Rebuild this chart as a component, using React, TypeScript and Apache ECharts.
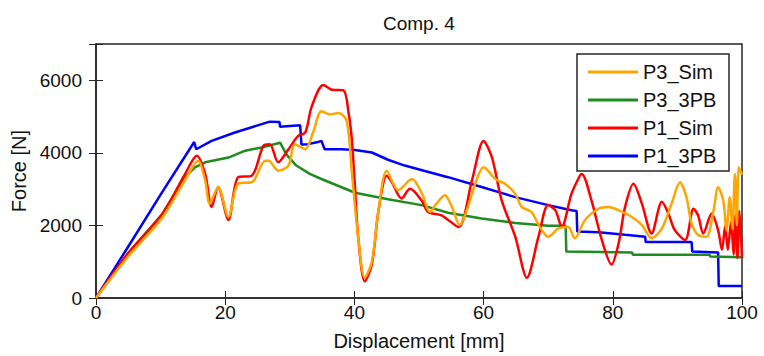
import React, { useEffect, useRef } from "react";
import * as echarts from "echarts";

const xTicks = [0, 20, 40, 60, 80, 100];
const yTicks = [0, 2000, 4000, 6000];

const p1_3PB: number[][] = [
  [0, 0], [5, 1420], [10, 2850], [15.2, 4300], [15.5, 4100], [17.9, 4330], [21.5, 4560], [24, 4700],
  [26.9, 4860], [28.4, 4850], [28.5, 4720], [31.6, 4760], [31.8, 4230], [32.8, 4240], [34.2, 4290],
  [34.9, 4330], [35.4, 4100], [38, 4100], [40.1, 4080], [42.7, 4010], [45.2, 3810], [47.8, 3650],
  [50.9, 3500], [54.5, 3330], [59.7, 3060], [64.9, 2780], [70, 2560], [73.6, 2420], [74.4, 2400],
  [74.5, 1830], [77.8, 1810], [81.9, 1740], [85, 1690], [85.1, 1540], [92.2, 1540], [92.3, 1280],
  [96.3, 1255], [96.4, 330], [100, 330],
];

const p1_Sim: number[][] = [
  [0, 0], [5, 1240], [10.2, 2300], [13.8, 3420], [15.6, 3920], [16.9, 3420], [17.9, 2510], [18.9, 3055],
  [20.5, 2150], [22, 3330], [24.1, 3370], [25.9, 4190], [26.9, 4240], [28.2, 3740], [29.8, 4100],
  [31.3, 4465], [32.4, 4560], [33.4, 5280], [35.2, 5870], [36.5, 5740], [38.3, 5720], [39.1, 5100],
  [39.6, 4370], [40.1, 3010], [40.6, 1650], [41.6, 460], [42.7, 920], [43.7, 2370], [45, 3370],
  [45.8, 3190], [47.3, 2740], [48.6, 3010], [50.4, 2690], [51.4, 2370], [53.5, 2280], [56.1, 1960],
  [58.2, 3240], [60, 4330], [61.3, 3870], [62.8, 2690], [64.9, 1690], [66.7, 560], [68.5, 1690],
  [70, 2560], [71.1, 2420], [72.1, 1960], [73.6, 2870], [74.9, 3370], [75.2, 3420], [76.7, 2690],
  [78.3, 1600], [79.8, 920], [80.9, 1510], [81.9, 2510], [83.2, 3150], [84.5, 2600], [86, 1780],
  [87.6, 2650], [88.6, 2330], [89.6, 1870], [91.2, 1600], [92.5, 2460], [93.2, 2280], [94, 1780],
  [95.3, 2330], [96.3, 1870], [96.9, 1330], [97.4, 2000], [97.8, 1330], [98.3, 2100], [98.7, 1200],
  [99, 2300], [99.3, 1100], [99.6, 2400], [100, 1100],
];

const p3_3PB: number[][] = [
  [0, 0], [5, 1240], [10.2, 2300], [13.8, 3330], [15.3, 3600], [16.9, 3740], [20.5, 3870], [23.1, 4060],
  [25.6, 4150], [28.5, 4280], [29.5, 3950], [31, 3650], [33.1, 3420], [34.9, 3280], [40.1, 2900],
  [45.2, 2720], [50.4, 2560], [54.5, 2350], [59.7, 2190], [64.9, 2070], [70, 1990], [72.7, 1990],
  [72.8, 1280], [83, 1255], [83.1, 1190], [95, 1190], [95.1, 1146], [100, 1120],
];

const p3_Sim: number[][] = [
  [0, 0], [5, 1150], [10.2, 2200], [13.8, 3250], [15.8, 3780], [16.9, 3240], [17.6, 2600], [18.9, 3055],
  [20.5, 2240], [22, 3150], [24.1, 3190], [24.6, 3280], [26.2, 3780], [26.7, 3780], [28.2, 3510],
  [29.8, 3650], [30.8, 4240], [32.4, 4100], [33.6, 4560], [34.9, 5150], [36.2, 5060], [37.5, 5100],
  [38.8, 4880], [39.6, 3470], [40.6, 1650], [41.6, 560], [42.7, 1000], [43.7, 2370], [45, 3510],
  [46.8, 2970], [48.9, 3280], [50.4, 2900], [51.7, 2370], [52.7, 2600], [54, 2830], [55.1, 2510],
  [56.3, 2010], [57.4, 2420], [58.7, 3150], [60, 3600], [61.8, 3280], [63.3, 3150], [64.9, 2870],
  [65.9, 2510], [67.4, 2370], [68.7, 1960], [70, 1690], [71.6, 1920], [73.1, 1960], [74.1, 1645],
  [75.7, 2150], [77.8, 2460], [79.3, 2510], [80.9, 2420], [82.9, 2240], [84.5, 2010], [86, 1645],
  [87.6, 1920], [89.1, 2600], [90.4, 3190], [91.4, 2780], [92.2, 2050], [93.2, 1740], [94.5, 1690],
  [95.6, 2420], [96.3, 3050], [97.1, 2690], [97.6, 1870], [98.1, 2780], [98.5, 1900], [98.9, 3420],
  [99.2, 2000], [99.5, 3600], [100, 3400],
];

const legendOrder = ["P3_Sim", "P3_3PB", "P1_Sim", "P1_3PB"];

const FONT = "Liberation Sans, Arial, sans-serif";
const AX = "#262626";

export default function App() {
  const ref = useRef<HTMLDivElement>(null);
  useEffect(() => {
    if (!ref.current) return;
    const chart = echarts.init(ref.current, undefined, { renderer: "svg" });
    const mk = (name: string, data: number[][], color: string, smooth: number | boolean) => ({
      name,
      type: "line",
      data,
      smooth,
      showSymbol: false,
      symbol: "none",
      lineStyle: { color, width: 2.5 },
      itemStyle: { color },
    });
    const tickStyle = { show: true, inside: true, length: 7, lineStyle: { color: AX, width: 1 } };
    chart.setOption({
      animation: false,
      backgroundColor: "#ffffff",
      title: {
        text: "Comp. 4",
        left: 378,
        top: 9,
        textStyle: { fontFamily: FONT, fontSize: 19, fontWeight: "normal", color: "#111" },
      },
      grid: {
        left: 96,
        right: 22,
        top: 44,
        bottom: 54,
        show: true,
        borderColor: AX,
        borderWidth: 1.5,
        backgroundColor: "transparent",
      },
      legend: {
        data: legendOrder,
        orient: "vertical",
        left: 577,
        top: 54,
        padding: [8, 8, 5, 11],
        itemGap: 8,
        itemWidth: 50,
        itemHeight: 3,
        icon: "rect",
        backgroundColor: "#ffffff",
        borderColor: AX,
        borderWidth: 1.5,
        borderRadius: 0,
        textStyle: { fontFamily: FONT, fontSize: 20, color: "#111", lineHeight: 20, width: 78 },
      },
      xAxis: [
        {
          type: "value",
          min: 0,
          max: 100,
          interval: 20,
          name: "Displacement [mm]",
          nameLocation: "middle",
          nameGap: 33,
          nameTextStyle: { fontFamily: FONT, fontSize: 20, color: "#111" },
          axisLine: { show: true, lineStyle: { color: AX, width: 1.5 } },
          axisTick: tickStyle,
          splitLine: { show: false },
          axisLabel: {
            fontFamily: FONT,
            fontSize: 19,
            color: "#111",
            margin: 5,
            formatter: (v: number) => (xTicks.includes(v) ? String(v) : ""),
          },
        },
        {
          type: "value",
          position: "top",
          min: 0,
          max: 100,
          interval: 20,
          axisLine: { show: false },
          axisTick: tickStyle,
          axisLabel: { show: false },
          splitLine: { show: false },
        },
      ],
      yAxis: [
        {
          type: "value",
          min: 0,
          max: 7000,
          interval: 2000,
          name: "Force [N]",
          nameLocation: "middle",
          nameGap: 60,
          nameTextStyle: { fontFamily: FONT, fontSize: 20, color: "#111" },
          axisLine: { show: true, lineStyle: { color: AX, width: 1.5 } },
          axisTick: tickStyle,
          splitLine: { show: false },
          axisLabel: {
            fontFamily: FONT,
            fontSize: 19,
            color: "#111",
            margin: 14,
            formatter: (v: number) => (yTicks.includes(v) ? String(v) : ""),
          },
        },
        {
          type: "value",
          position: "right",
          min: 0,
          max: 7000,
          interval: 2000,
          axisLine: { show: false },
          axisTick: tickStyle,
          axisLabel: { show: false },
          splitLine: { show: false },
        },
      ],
      series: [
        mk("P1_3PB", p1_3PB, "#0000ff", false),
        mk("P3_3PB", p3_3PB, "#1e8c1e", false),
        mk("P1_Sim", p1_Sim, "#ff0000", 0.3),
        mk("P3_Sim", p3_Sim, "#ffa500", 0.3),
      ],
    });
    return () => chart.dispose();
  }, []);
  return (
    <div
      ref={ref}
      style={{ position: "fixed", left: 0, top: 0, width: 764, height: 356, background: "#fff" }}
    />
  );
}
